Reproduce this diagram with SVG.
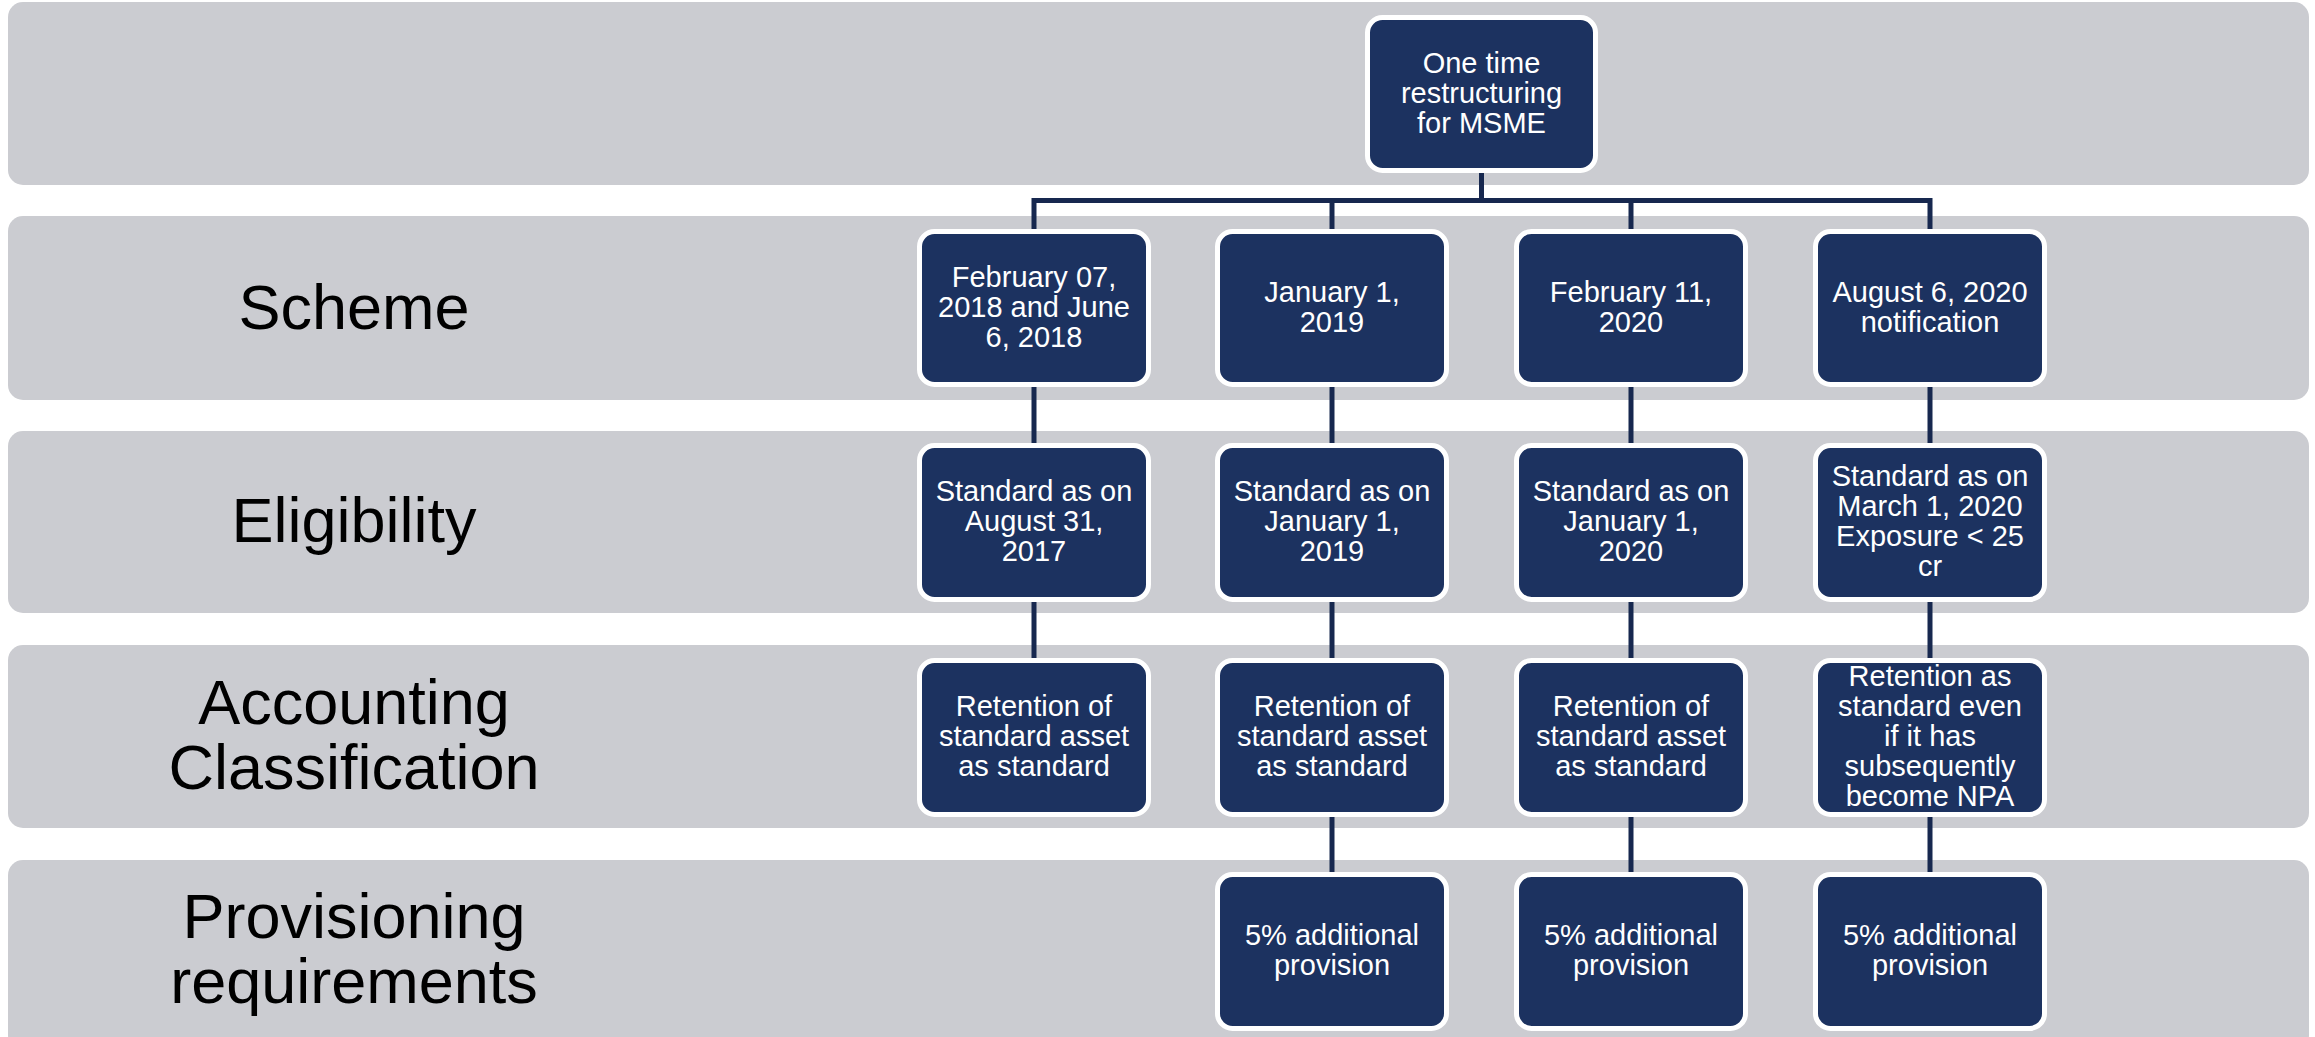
<svg xmlns="http://www.w3.org/2000/svg" width="2315" height="1037" viewBox="0 0 2315 1037">
  <style>
    .band { fill: #CBCCD1; }
    .node rect { fill: #1C3260; stroke: #FFFFFF; stroke-width: 5; }
    .node text { fill: #FFFFFF; font-family: "Liberation Sans", Arial, sans-serif; font-size: 29px; text-anchor: middle; }
    .label { fill: #000000; font-family: "Liberation Sans", Arial, sans-serif; font-size: 63px; text-anchor: middle; }
    .conn { stroke: #17284F; stroke-width: 5; fill: none; }
  </style>

  <!-- row bands -->
  <g id="bands">
    <rect class="band" x="8" y="2" width="2301" height="183" rx="15"/>
    <rect class="band" x="8" y="216" width="2301" height="184" rx="15"/>
    <rect class="band" x="8" y="431" width="2301" height="182" rx="15"/>
    <rect class="band" x="8" y="645" width="2301" height="183" rx="15"/>
    <rect class="band" x="8" y="860" width="2301" height="190" rx="15"/>
  </g>

  <!-- row titles -->
  <g id="row-labels">
    <text class="label" x="354" y="329">Scheme</text>
    <text class="label" x="354" y="542">Eligibility</text>
    <text class="label" x="354" y="724">Accounting</text>
    <text class="label" x="354" y="789">Classification</text>
    <text class="label" x="354" y="938">Provisioning</text>
    <text class="label" x="354" y="1003">requirements</text>
  </g>

  <!-- connectors -->
  <g id="connectors">
    <path class="conn" d="M1481.5,173 V200.5"/>
    <path class="conn" d="M1034,229 V200.5 H1930 V229"/>
    <path class="conn" d="M1332,200.5 V229"/>
    <path class="conn" d="M1631,200.5 V229"/>
    <path class="conn" d="M1034,387 V658"/>
    <path class="conn" d="M1332,387 V872"/>
    <path class="conn" d="M1631,387 V872"/>
    <path class="conn" d="M1930,387 V872"/>
  </g>

  <!-- root -->
  <g id="node-root" class="node">
    <rect x="1367.5" y="17.5" width="228" height="153" rx="15"/>
    <text x="1481.5" y="73">One time</text>
    <text x="1481.5" y="103">restructuring</text>
    <text x="1481.5" y="133">for MSME</text>
  </g>

  <!-- scheme row -->
  <g id="node-scheme-1" class="node">
    <rect x="919.5" y="231.5" width="229" height="153" rx="15"/>
    <text x="1034" y="287">February 07,</text>
    <text x="1034" y="317">2018 and June</text>
    <text x="1034" y="347">6, 2018</text>
  </g>
  <g id="node-scheme-2" class="node">
    <rect x="1217.5" y="231.5" width="229" height="153" rx="15"/>
    <text x="1332" y="302">January 1,</text>
    <text x="1332" y="332">2019</text>
  </g>
  <g id="node-scheme-3" class="node">
    <rect x="1516.5" y="231.5" width="229" height="153" rx="15"/>
    <text x="1631" y="302">February 11,</text>
    <text x="1631" y="332">2020</text>
  </g>
  <g id="node-scheme-4" class="node">
    <rect x="1815.5" y="231.5" width="229" height="153" rx="15"/>
    <text x="1930" y="302">August 6, 2020</text>
    <text x="1930" y="332">notification</text>
  </g>

  <!-- eligibility row -->
  <g id="node-elig-1" class="node">
    <rect x="919.5" y="445.5" width="229" height="154" rx="15"/>
    <text x="1034" y="501">Standard as on</text>
    <text x="1034" y="531">August 31,</text>
    <text x="1034" y="561">2017</text>
  </g>
  <g id="node-elig-2" class="node">
    <rect x="1217.5" y="445.5" width="229" height="154" rx="15"/>
    <text x="1332" y="501">Standard as on</text>
    <text x="1332" y="531">January 1,</text>
    <text x="1332" y="561">2019</text>
  </g>
  <g id="node-elig-3" class="node">
    <rect x="1516.5" y="445.5" width="229" height="154" rx="15"/>
    <text x="1631" y="501">Standard as on</text>
    <text x="1631" y="531">January 1,</text>
    <text x="1631" y="561">2020</text>
  </g>
  <g id="node-elig-4" class="node">
    <rect x="1815.5" y="445.5" width="229" height="154" rx="15"/>
    <text x="1930" y="486">Standard as on</text>
    <text x="1930" y="516">March 1, 2020</text>
    <text x="1930" y="546">Exposure &lt; 25</text>
    <text x="1930" y="576">cr</text>
  </g>

  <!-- accounting classification row -->
  <g id="node-acct-1" class="node">
    <rect x="919.5" y="660.5" width="229" height="154" rx="15"/>
    <text x="1034" y="716">Retention of</text>
    <text x="1034" y="746">standard asset</text>
    <text x="1034" y="776">as standard</text>
  </g>
  <g id="node-acct-2" class="node">
    <rect x="1217.5" y="660.5" width="229" height="154" rx="15"/>
    <text x="1332" y="716">Retention of</text>
    <text x="1332" y="746">standard asset</text>
    <text x="1332" y="776">as standard</text>
  </g>
  <g id="node-acct-3" class="node">
    <rect x="1516.5" y="660.5" width="229" height="154" rx="15"/>
    <text x="1631" y="716">Retention of</text>
    <text x="1631" y="746">standard asset</text>
    <text x="1631" y="776">as standard</text>
  </g>
  <g id="node-acct-4" class="node">
    <rect x="1815.5" y="660.5" width="229" height="154" rx="15"/>
    <text x="1930" y="686">Retention as</text>
    <text x="1930" y="716">standard even</text>
    <text x="1930" y="746">if it has</text>
    <text x="1930" y="776">subsequently</text>
    <text x="1930" y="806">become NPA</text>
  </g>

  <!-- provisioning row -->
  <g id="node-prov-2" class="node">
    <rect x="1217.5" y="874.5" width="229" height="154" rx="15"/>
    <text x="1332" y="945">5% additional</text>
    <text x="1332" y="975">provision</text>
  </g>
  <g id="node-prov-3" class="node">
    <rect x="1516.5" y="874.5" width="229" height="154" rx="15"/>
    <text x="1631" y="945">5% additional</text>
    <text x="1631" y="975">provision</text>
  </g>
  <g id="node-prov-4" class="node">
    <rect x="1815.5" y="874.5" width="229" height="154" rx="15"/>
    <text x="1930" y="945">5% additional</text>
    <text x="1930" y="975">provision</text>
  </g>
</svg>
